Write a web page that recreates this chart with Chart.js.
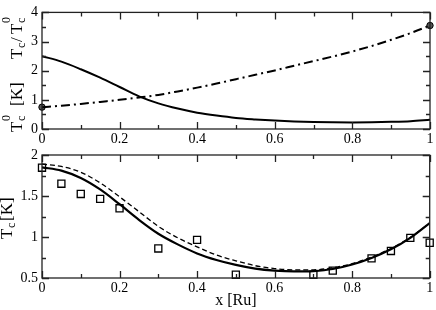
<!DOCTYPE html>
<html>
<head>
<meta charset="utf-8">
<script src="https://cdn.jsdelivr.net/npm/chart.js@4.4.0/dist/chart.umd.min.js"></script>
<style>
  body { margin: 0; background: #fff; }
  #wrap { position: relative; width: 436px; height: 310px; }
  canvas { position: absolute; left: 0; }
</style>
</head>
<body>
<div id="wrap">
  <canvas id="topChart" width="436" height="150" style="top:0"></canvas>
  <canvas id="bottomChart" width="436" height="170" style="top:140px"></canvas>
</div>
<script>
// Ru content grid
const xs = [0, 0.05, 0.1, 0.15, 0.2, 0.25, 0.3, 0.35, 0.4, 0.45, 0.5, 0.55, 0.6, 0.65, 0.7, 0.75, 0.8, 0.85, 0.9, 0.95, 1];

// top panel: Tc0 [K] (solid) and Tc/Tc0 (dash-dot)
const tcZero = [2.50, 2.31, 2.05, 1.76, 1.44, 1.12, 0.88, 0.70, 0.56, 0.46, 0.38, 0.33, 0.29, 0.26, 0.24, 0.23, 0.225, 0.23, 0.245, 0.27, 0.32];
const tcRatio = [0.75, 0.80, 0.86, 0.93, 1.00, 1.08, 1.17, 1.29, 1.42, 1.56, 1.71, 1.86, 2.01, 2.17, 2.33, 2.49, 2.66, 2.85, 3.06, 3.29, 3.55];
const endX = [0, 1];
const endY = [0.75, 3.55];

// bottom panel: Tc [K] calc (solid, dashed) and experiment (squares)
const tcSolid = [1.85, 1.81, 1.72, 1.58, 1.40, 1.21, 1.04, 0.91, 0.80, 0.72, 0.66, 0.615, 0.59, 0.58, 0.585, 0.61, 0.665, 0.745, 0.85, 0.99, 1.17];
const tcDashed = [1.89, 1.86, 1.79, 1.66, 1.49, 1.31, 1.13, 0.99, 0.88, 0.78, 0.71, 0.65, 0.615, 0.60, 0.60, 0.625, 0.675, 0.755, 0.86, 0.995, 1.17];
const expX = [0, 0.05, 0.1, 0.15, 0.2, 0.3, 0.4, 0.5, 0.7, 0.75, 0.85, 0.9, 0.95, 1];
const expTc = [1.845, 1.65, 1.525, 1.465, 1.35, 0.86, 0.965, 0.54, 0.54, 0.59, 0.74, 0.83, 0.99, 0.93];

// tick labels
const xTicks = [0, 0.2, 0.4, 0.6, 0.8, 1];
const topYTicks = [0, 1, 2, 3, 4];
const bottomYTicks = [0.5, 1, 1.5, 2];

const FONT = "'Liberation Serif', 'DejaVu Serif', serif";
const INK = "#222";

function pts(xv, yv) {
  return xv.map((x, i) => ({ x: x, y: yv[i] }));
}

// frame + inward ticks on all four sides
const framePlugin = {
  id: "frame",
  afterDraw(chart, args, opts) {
    const { ctx, chartArea: a, scales } = chart;
    const x = scales.x, y = scales.y;
    ctx.save();
    ctx.strokeStyle = INK;
    ctx.lineWidth = 1.3;
    ctx.beginPath();
    const nx = Math.round((x.max - x.min) / opts.xMinor);
    for (let i = 0; i <= nx; i++) {
      const v = x.min + i * opts.xMinor;
      const px = Math.round(x.getPixelForValue(v)) + 0.5;
      const major = Math.abs(v / opts.xMajor - Math.round(v / opts.xMajor)) < 1e-6;
      const len = major ? 7 : 4;
      ctx.moveTo(px, a.bottom); ctx.lineTo(px, a.bottom - len);
      ctx.moveTo(px, a.top); ctx.lineTo(px, a.top + len);
    }
    const ny = Math.round((y.max - y.min) / opts.yMinor);
    for (let i = 0; i <= ny; i++) {
      const v = y.min + i * opts.yMinor;
      const py = Math.round(y.getPixelForValue(v)) + 0.5;
      const major = Math.abs(v / opts.yMajor - Math.round(v / opts.yMajor)) < 1e-6;
      const len = major ? 7 : 4;
      ctx.moveTo(a.left, py); ctx.lineTo(a.left + len, py);
      ctx.moveTo(a.right, py); ctx.lineTo(a.right - len, py);
    }
    ctx.stroke();
    ctx.strokeRect(a.left, a.top, a.right - a.left, a.bottom - a.top);
    ctx.restore();
  }
};

// rotated y title with sub/superscripts
const yTitlePlugin = {
  id: "ytitle",
  afterDraw(chart, args, opts) {
    const ctx = chart.ctx;
    ctx.save();
    ctx.fillStyle = "#000";
    ctx.textBaseline = "alphabetic";
    ctx.textAlign = "left";
    opts.pieces.forEach(p => {
      ctx.save();
      ctx.translate(opts.baseX + (p.dy || 0), p.at);
      ctx.rotate(-Math.PI / 2);
      ctx.font = (p.size || 17) + "px " + FONT;
      ctx.fillText(p.t, 0, 0);
      ctx.restore();
    });
    ctx.restore();
  }
};

function xScale(showTitle) {
  return {
    type: "linear", min: 0, max: 1,
    afterBuildTicks: s => { s.ticks = xTicks.map(v => ({ value: v })); },
    afterFit: s => { s.height = showTitle ? 32 : 21; },
    grid: { display: false, drawTicks: false },
    border: { display: false },
    ticks: { padding: 2, color: "#000", font: { family: FONT, size: 14 }, maxRotation: 0, callback: v => String(v) },
    title: showTitle
      ? { display: true, text: "x [Ru]", color: "#000", font: { family: FONT, size: 16 }, padding: 0 }
      : { display: false }
  };
}

function yScale(min, max, ticks) {
  return {
    type: "linear", min: min, max: max,
    afterBuildTicks: s => { s.ticks = ticks.map(v => ({ value: v })); },
    afterFit: s => { s.width = 42; },
    grid: { display: false, drawTicks: false },
    border: { display: false },
    ticks: { padding: 4, color: "#000", font: { family: FONT, size: 14 }, callback: v => String(v) }
  };
}

const common = {
  responsive: false,
  animation: false,
  events: [],
  plugins: { legend: { display: false }, tooltip: { enabled: false } }
};

new Chart(document.getElementById("topChart"), {
  type: "scatter",
  data: {
    datasets: [
      { data: pts(xs, tcZero), showLine: true, borderColor: "#000", borderWidth: 2, pointRadius: 0, cubicInterpolationMode: "monotone" },
      { data: pts(xs, tcRatio), showLine: true, borderColor: "#000", borderWidth: 2, borderDash: [9, 4, 2, 4], pointRadius: 0, cubicInterpolationMode: "monotone" },
      { data: pts(endX, endY), pointRadius: 3.2, backgroundColor: "#555", borderColor: "#000", borderWidth: 1, clip: false }
    ]
  },
  options: {
    ...common,
    layout: { padding: { top: 5, right: 6, left: 0, bottom: 0 } },
    scales: { x: xScale(false), y: yScale(0, 4, topYTicks) },
    plugins: {
      ...common.plugins,
      frame: { xMinor: 0.1, xMajor: 0.2, yMinor: 0.5, yMajor: 1 },
      ytitle: {
        baseX: 22,
        pieces: [
          { t: "T", at: 132 }, { t: "c", at: 121, size: 12, dy: 3 }, { t: "0", at: 121, size: 12, dy: -12 },
          { t: "[K]", at: 106 },
          { t: "T", at: 59 }, { t: "c", at: 48, size: 12, dy: 3 }, { t: "/", at: 42 },
          { t: "T", at: 34 }, { t: "c", at: 23, size: 12, dy: 3 }, { t: "0", at: 23, size: 12, dy: -12 }
        ]
      }
    }
  },
  plugins: [framePlugin, yTitlePlugin]
});

new Chart(document.getElementById("bottomChart"), {
  type: "scatter",
  data: {
    datasets: [
      { data: pts(xs, tcSolid), showLine: true, borderColor: "#000", borderWidth: 2.2, pointRadius: 0, cubicInterpolationMode: "monotone" },
      { data: pts(xs, tcDashed), showLine: true, borderColor: "#000", borderWidth: 1.3, borderDash: [5, 3], pointRadius: 0, cubicInterpolationMode: "monotone" },
      { data: pts(expX, expTc), pointStyle: "rect", pointRadius: 5, backgroundColor: "rgba(0,0,0,0)", borderColor: "#000", borderWidth: 1.3, clip: false }
    ]
  },
  options: {
    ...common,
    layout: { padding: { top: 15, right: 6, left: 0, bottom: 0 } },
    scales: { x: xScale(true), y: yScale(0.5, 2, bottomYTicks) },
    plugins: {
      ...common.plugins,
      frame: { xMinor: 0.1, xMajor: 0.2, yMinor: 0.25, yMajor: 0.5 },
      ytitle: {
        baseX: 12,
        pieces: [
          { t: "T", at: 99 }, { t: "c", at: 88, size: 12, dy: 3 }, { t: "[K]", at: 81 }
        ]
      }
    }
  },
  plugins: [framePlugin, yTitlePlugin]
});
</script>
</body>
</html>
